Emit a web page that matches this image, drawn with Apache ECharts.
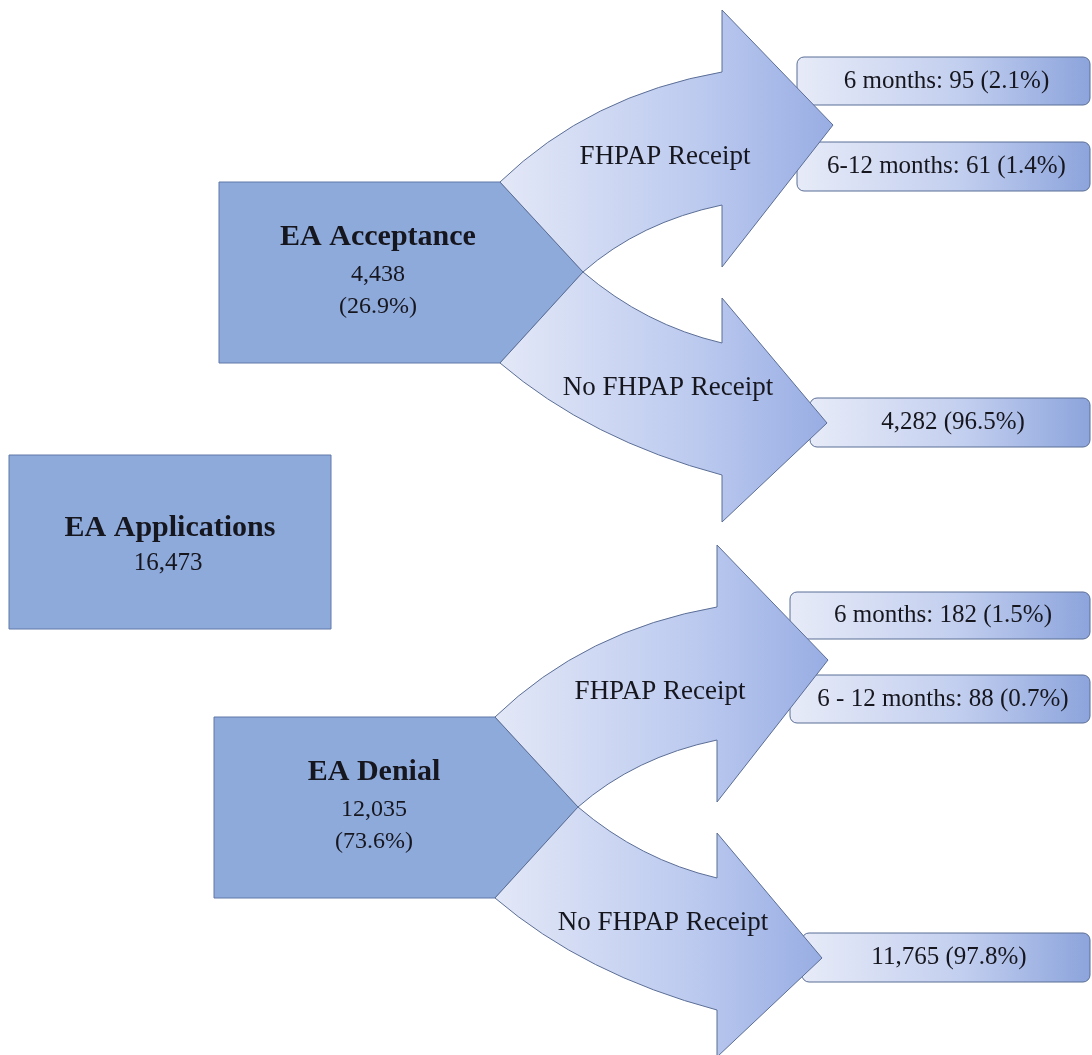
<!DOCTYPE html>
<html>
<head>
<meta charset="utf-8">
<title>EA Applications and FHPAP Receipt</title>
<script src="https://cdn.jsdelivr.net/npm/echarts@6/dist/echarts.min.js"></script>
<style>
html, body { margin: 0; padding: 0; background: #fff; }
#flow { width: 1092px; height: 1055px; }
</style>
</head>
<body>
<div id="flow"></div>
<script>
// figures
var rootLabel = 'EA Applications';
var rootCount = 16473;
var stageLabels = ['EA Acceptance', 'EA Denial'];
var stageCounts = [4438, 12035];
var stageShares = ['26.9%', '73.6%']; // as printed in the source
var branchLabels = ['FHPAP Receipt', 'No FHPAP Receipt'];
var outcomePeriods = ['6 months', '6-12 months', '', '6 months', '6 - 12 months', ''];
var outcomeCounts = [95, 61, 4282, 182, 88, 11765];
var outcomeShares = ['2.1%', '1.4%', '96.5%', '1.5%', '0.7%', '97.8%'];

// layout, page px (hidden axes map 1:1 onto the canvas)
var rootBox = [9, 455, 322, 174];
var stageShift = [[0, 0], [-5, 535]];
var stageShape = [[219, 182], [500, 182], [583, 272], [500, 363], [219, 363]];
var stageTextPos = [[378, 237], [378, 275], [378, 307]];
// curved arrows, relative to the acceptance block
var arrowPaths = [
  [['M', 500, 182], ['Q', 590, 95, 722, 72], ['L', 722, 10], ['L', 833, 125], ['L', 722, 267], ['L', 722, 205], ['Q', 640, 222, 583, 272], ['Z']],
  [['M', 583, 272], ['Q', 645, 325, 722, 343], ['L', 722, 298], ['L', 827, 423], ['L', 722, 522], ['L', 722, 475], ['Q', 590, 440, 500, 363], ['Z']]
];
var arrowTextPos = [[665, 157], [668, 388]];
var outcomeBoxes = [[797, 57, 48], [797, 142, 49], [810, 398, 49], [790, 592, 47], [790, 675, 48], [802, 933, 49]];
var boxRight = 1090;

var FONT = '"Liberation Serif", "Times New Roman", serif';
var TEXT = '#16161e';

function fmt(n) { return n.toLocaleString('en-US'); }

// one entry per drawn block, built from the arrays above
var marks = [{ kind: 'root' }];
stageLabels.forEach(function (s, i) { marks.push({ kind: 'stage', i: i }); });
outcomeCounts.forEach(function (c, i) { marks.push({ kind: 'outcome', i: i }); });
stageLabels.forEach(function (s, i) {
  branchLabels.forEach(function (b, j) { marks.push({ kind: 'arrow', i: i, j: j }); });
});

function txt(pt, str, size, bold) {
  return {
    type: 'text',
    style: {
      x: pt[0], y: pt[1], text: str,
      fill: TEXT,
      fontFamily: FONT, fontSize: size, fontWeight: bold ? 'bold' : 'normal',
      align: 'center', verticalAlign: 'middle'
    }
  };
}

function renderItem(params, api) {
  var m = marks[params.dataIndex];
  var p = function (x, y) { return api.coord([x, y]); };
  if (m.kind === 'root') {
    var a = p(rootBox[0], rootBox[1]), b = p(rootBox[0] + rootBox[2], rootBox[1] + rootBox[3]);
    return {
      type: 'group',
      children: [
        { type: 'rect', shape: { x: a[0], y: a[1], width: b[0] - a[0], height: b[1] - a[1] },
          style: { fill: '#8eaadb', stroke: '#5e78a8', lineWidth: 1 } },
        txt(p(170, 528), rootLabel, 30, true),
        txt(p(168, 563), fmt(rootCount), 25, false)
      ]
    };
  }
  if (m.kind === 'stage') {
    var sh = stageShift[m.i];
    var pts = stageShape.map(function (q) { return p(q[0] + sh[0], q[1] + sh[1]); });
    var tp = stageTextPos.map(function (q) { return p(q[0] + sh[0] - (m.i ? -1 : 0), q[1] + sh[1]); });
    return {
      type: 'group',
      children: [
        { type: 'polygon', shape: { points: pts }, style: { fill: '#8eaadb', stroke: '#5e78a8', lineWidth: 1 } },
        txt(tp[0], stageLabels[m.i], 30, true),
        txt(tp[1], fmt(stageCounts[m.i]), 24, false),
        txt(tp[2], '(' + stageShares[m.i] + ')', 24, false)
      ]
    };
  }
  if (m.kind === 'outcome') {
    var ob = outcomeBoxes[m.i];
    var o1 = p(ob[0], ob[1]), o2 = p(boxRight, ob[1] + ob[2]);
    var label = (outcomePeriods[m.i] ? outcomePeriods[m.i] + ': ' : '') +
      fmt(outcomeCounts[m.i]) + ' (' + outcomeShares[m.i] + ')';
    return {
      type: 'group',
      children: [
        { type: 'rect', shape: { x: o1[0], y: o1[1], width: o2[0] - o1[0], height: o2[1] - o1[1], r: 7 },
          style: {
            fill: new echarts.graphic.LinearGradient(0, 0, 1, 0, [
              { offset: 0, color: '#e7ebf8' }, { offset: 0.55, color: '#c3cfef' }, { offset: 1, color: '#8ca4dc' }
            ]),
            stroke: '#5b6e96', lineWidth: 1
          } },
        txt(p((ob[0] + boxRight) / 2 + 3, ob[1] + ob[2] / 2), label, 25, false)
      ]
    };
  }
  // arrow
  var s2 = stageShift[m.i];
  var d = arrowPaths[m.j].map(function (seg) {
    if (seg[0] === 'Z') return 'Z';
    var out = [seg[0]];
    for (var k = 1; k < seg.length; k += 2) {
      var c = p(seg[k] + s2[0], seg[k + 1] + s2[1]);
      out.push(c[0].toFixed(1), c[1].toFixed(1));
    }
    return out.join(' ');
  }).join(' ');
  var lp = arrowTextPos[m.j];
  return {
    type: 'group',
    children: [
      { type: 'path', shape: { pathData: d },
        style: {
          fill: new echarts.graphic.LinearGradient(0, 0, 1, 0, [
            { offset: 0, color: '#e3e8f7' }, { offset: 0.6, color: '#bccaef' }, { offset: 1, color: '#98ade3' }
          ]),
          stroke: '#5b6e96', lineWidth: 1
        } },
      txt(p(lp[0] + s2[0], lp[1] + s2[1]), branchLabels[m.j], 27, false)
    ]
  };
}

var chart = echarts.init(document.getElementById('flow'));
chart.setOption({
  animation: false,
  backgroundColor: '#ffffff',
  grid: { left: 0, right: 0, top: 0, bottom: 0 },
  xAxis: { type: 'value', min: 0, max: 1092, show: false },
  yAxis: { type: 'value', min: 0, max: 1055, inverse: true, show: false },
  series: [{
    type: 'custom',
    renderItem: renderItem,
    coordinateSystem: 'cartesian2d',
    data: marks.map(function (m, i) { return [i, 0]; }),
    silent: true
  }]
});
</script>
</body>
</html>
